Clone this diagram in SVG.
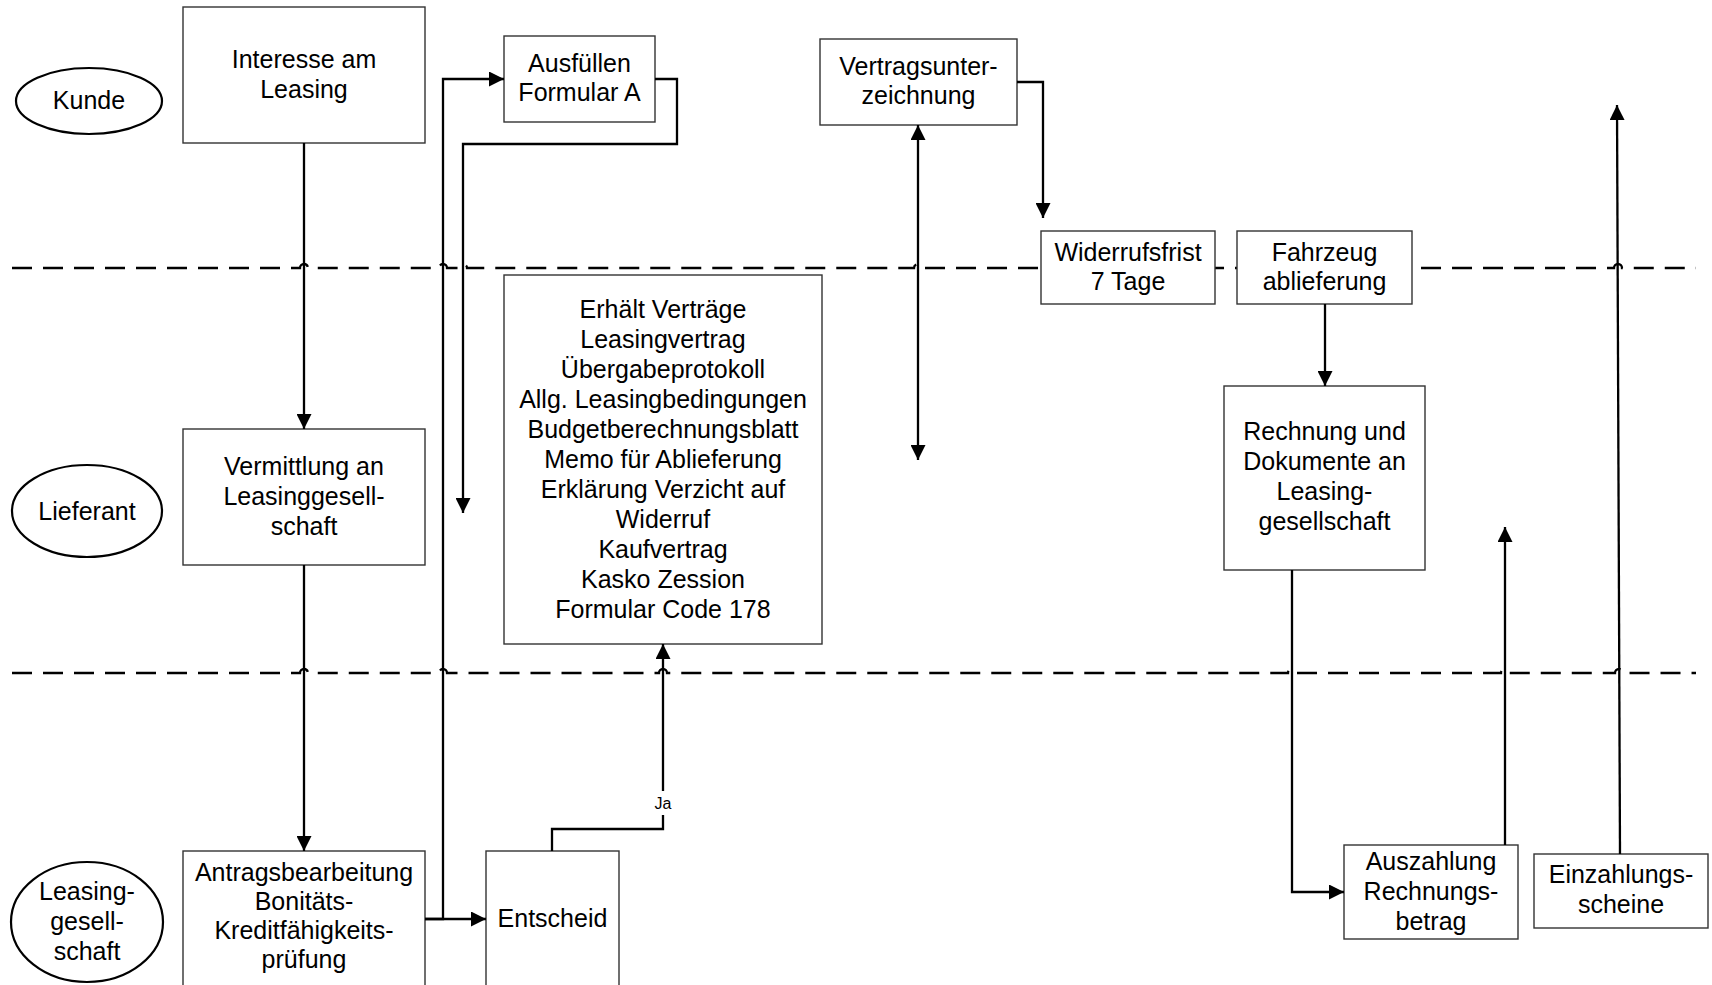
<svg xmlns="http://www.w3.org/2000/svg" width="1712" height="985" viewBox="0 0 1712 985">
<style>
.box{fill:#fff;stroke:#333;stroke-width:1.4}
.ell{fill:#fff;stroke:#000;stroke-width:2.2}
.t{font-family:"Liberation Sans",Arial,sans-serif;font-size:25px;fill:#000;text-anchor:middle}
.lbl{font-family:"Liberation Sans",Arial,sans-serif;font-size:16px;fill:#000;text-anchor:middle}
.lane{fill:none;stroke:#000;stroke-width:2.3;stroke-dasharray:20 11}
.c{fill:none;stroke:#000;stroke-width:2.3}
.a{marker-end:url(#ah)}
</style>
<defs>
<marker id="ah" viewBox="0 0 15 15" refX="15" refY="7.5" markerWidth="15" markerHeight="15" markerUnits="userSpaceOnUse" orient="auto">
<path d="M0,0 L15,7.5 L0,15 z" fill="#000"/>
</marker>
<marker id="ahs" viewBox="0 0 15 15" refX="15" refY="7.5" markerWidth="15" markerHeight="15" markerUnits="userSpaceOnUse" orient="auto-start-reverse">
<path d="M0,0 L15,7.5 L0,15 z" fill="#000"/>
</marker>
</defs>
<rect width="1712" height="985" fill="#fff"/>
<g id="lanes">
<path class="lane" d="M12,268 H300 a4,4 0 0 1 8,0 H439 a4,4 0 0 1 8,0 H459 a4,4 0 0 1 8,0 H914 a4,4 0 0 1 8,0 H1614 a4,4 0 0 1 8,0 H1696"/>
<path class="lane" d="M12,673 H300 a4,4 0 0 1 8,0 H439 a4,4 0 0 1 8,0 H659 a4,4 0 0 1 8,0 H1288 a4,4 0 0 1 8,0 H1501 a4,4 0 0 1 8,0 H1615 a4,4 0 0 1 8,0 H1696"/>
</g>
<g id="lane-kunde">
<ellipse class="ell" cx="89" cy="101" rx="73" ry="33"/>
<text class="t" x="89" y="109">Kunde</text>
</g>
<g id="lane-lieferant">
<ellipse class="ell" cx="87" cy="511" rx="75" ry="46"/>
<text class="t" x="87" y="520">Lieferant</text>
</g>
<g id="lane-leasinggesellschaft">
<ellipse class="ell" cx="87" cy="922" rx="76" ry="60"/>
<text class="t" x="87" y="900">Leasing-</text>
<text class="t" x="87" y="930">gesell-</text>
<text class="t" x="87" y="960">schaft</text>
</g>
<g id="n-interesse">
<rect class="box" x="183" y="7" width="242" height="136"/>
<text class="t" x="304" y="68">Interesse am</text>
<text class="t" x="304" y="98">Leasing</text>
</g>
<g id="n-ausfuellen">
<rect class="box" x="504" y="36" width="151" height="86"/>
<text class="t" x="579.5" y="72">Ausfüllen</text>
<text class="t" x="579.5" y="101">Formular A</text>
</g>
<g id="n-vertrag">
<rect class="box" x="820" y="39" width="197" height="86"/>
<text class="t" x="918.5" y="75">Vertragsunter-</text>
<text class="t" x="918.5" y="104">zeichnung</text>
</g>
<g id="n-widerruf">
<rect class="box" x="1041" y="231" width="174" height="73"/>
<text class="t" x="1128" y="261">Widerrufsfrist</text>
<text class="t" x="1128" y="290">7 Tage</text>
</g>
<g id="n-fahrzeug">
<rect class="box" x="1237" y="231" width="175" height="73"/>
<text class="t" x="1324.5" y="261">Fahrzeug</text>
<text class="t" x="1324.5" y="290">ablieferung</text>
</g>
<g id="n-erhaelt">
<rect class="box" x="504" y="275" width="318" height="369"/>
<text class="t" x="663" y="318">Erhält Verträge</text>
<text class="t" x="663" y="348">Leasingvertrag</text>
<text class="t" x="663" y="378">Übergabeprotokoll</text>
<text class="t" x="663" y="408">Allg. Leasingbedingungen</text>
<text class="t" x="663" y="438">Budgetberechnungsblatt</text>
<text class="t" x="663" y="468">Memo für Ablieferung</text>
<text class="t" x="663" y="498">Erklärung Verzicht auf</text>
<text class="t" x="663" y="528">Widerruf</text>
<text class="t" x="663" y="558">Kaufvertrag</text>
<text class="t" x="663" y="588">Kasko Zession</text>
<text class="t" x="663" y="618">Formular Code 178</text>
</g>
<g id="n-vermittlung">
<rect class="box" x="183" y="429" width="242" height="136"/>
<text class="t" x="304" y="475">Vermittlung an</text>
<text class="t" x="304" y="505">Leasinggesell-</text>
<text class="t" x="304" y="535">schaft</text>
</g>
<g id="n-rechnung">
<rect class="box" x="1224" y="386" width="201" height="184"/>
<text class="t" x="1324.5" y="440">Rechnung und</text>
<text class="t" x="1324.5" y="470">Dokumente an</text>
<text class="t" x="1324.5" y="500">Leasing-</text>
<text class="t" x="1324.5" y="530">gesellschaft</text>
</g>
<g id="n-antrag">
<rect class="box" x="183" y="851" width="242" height="140"/>
<text class="t" x="304" y="881">Antragsbearbeitung</text>
<text class="t" x="304" y="910">Bonitäts-</text>
<text class="t" x="304" y="939">Kreditfähigkeits-</text>
<text class="t" x="304" y="968">prüfung</text>
</g>
<g id="n-entscheid">
<rect class="box" x="486" y="851" width="133" height="140"/>
<text class="t" x="552.5" y="927">Entscheid</text>
</g>
<g id="n-auszahlung">
<rect class="box" x="1344" y="845" width="174" height="94"/>
<text class="t" x="1431" y="870">Auszahlung</text>
<text class="t" x="1431" y="900">Rechnungs-</text>
<text class="t" x="1431" y="930">betrag</text>
</g>
<g id="n-einzahlung">
<rect class="box" x="1534" y="854" width="174" height="74"/>
<text class="t" x="1621" y="883">Einzahlungs-</text>
<text class="t" x="1621" y="913">scheine</text>
</g>
<g id="connectors">
<path class="c a" d="M304,143 V429"/>
<path class="c a" d="M304,565 V851"/>
<path class="c a" d="M425,919 H486"/>
<path class="c a" d="M425,919 H443 V79 H504"/>
<path class="c a" d="M655,79 H677 V144 H463 V513"/>
<path class="c a" d="M552,851 V829 H663 V644"/>
<rect x="652" y="791" width="22" height="24" fill="#fff"/>
<text class="lbl" x="663" y="809">Ja</text>
<path class="c" d="M918,125 V460" marker-start="url(#ahs)" marker-end="url(#ah)"/>
<path class="c a" d="M1017,82 H1043 V218"/>
<path class="c a" d="M1325,304 V386"/>
<path class="c a" d="M1292,570 V892 H1344"/>
<path class="c a" d="M1505,845 V527"/>
<path class="c a" d="M1620,854 L1617,105"/>
</g>
</svg>
